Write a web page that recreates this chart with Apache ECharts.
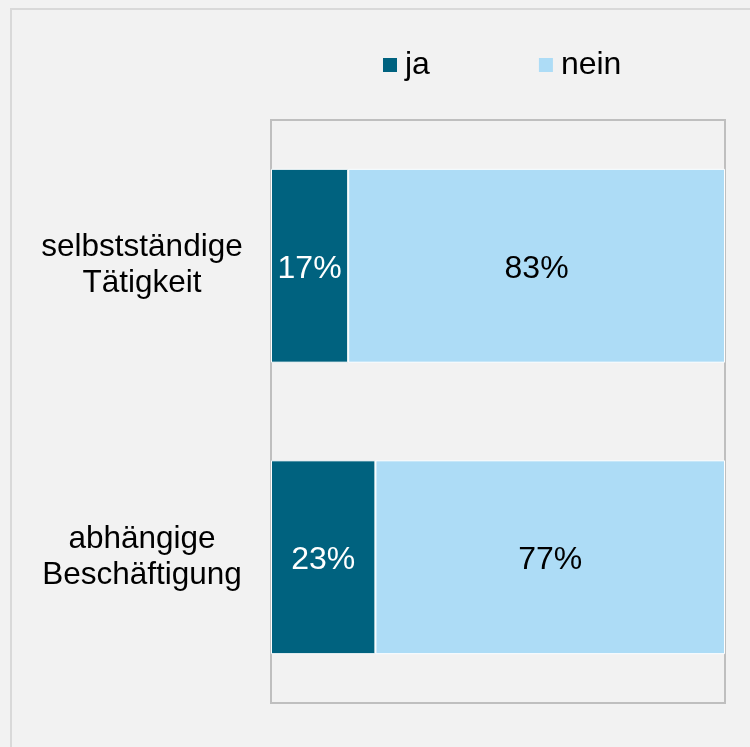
<!DOCTYPE html>
<html>
<head>
<meta charset="utf-8">
<script src="https://cdn.jsdelivr.net/npm/echarts@6/dist/echarts.min.js"></script>
<style>
  html, body { margin: 0; padding: 0; background: #f2f2f2; }
  #container { width: 750px; height: 747px; }
</style>
</head>
<body>
<div id="container"></div>
<script>
// Daten
var categories = ['selbstständige\nTätigkeit', 'abhängige\nBeschäftigung'];
var ja = [17, 23];
var nein = [83, 77];

var myChart = echarts.init(document.getElementById('container'));
myChart.setOption({
    backgroundColor: '#f2f2f2',
    textStyle: { fontFamily: 'Liberation Sans, Arial, sans-serif' },
    graphic: [{
        type: 'rect',
        shape: { x: 11, y: 9, width: 760, height: 760 },
        style: { fill: 'none', stroke: '#d9d9d9', lineWidth: 2 },
        silent: true
    }],
    legend: {
        top: 49,
        left: 383,
        padding: 0,
        itemWidth: 14,
        itemHeight: 14,
        itemGap: 109,
        icon: 'rect',
        itemStyle: { borderWidth: 0 },
        textStyle: { fontSize: 32, color: '#000', fontFamily: 'Liberation Sans, Arial, sans-serif', padding: [0, 0, 0, 3] },
        data: ['ja', 'nein']
    },
    grid: {
        left: 271, top: 120, right: 25, bottom: 44,
        show: true, borderColor: '#bfbfbf', borderWidth: 2, backgroundColor: 'transparent'
    },
    xAxis: {
        type: 'value', min: 0, max: 100, show: false
    },
    yAxis: {
        type: 'category',
        data: categories,
        inverse: true,
        axisLine: { show: false },
        axisTick: { show: false },
        axisLabel: {
            fontSize: 31.5, color: '#000', align: 'center', margin: 129, lineHeight: 36,
            fontFamily: 'Liberation Sans, Arial, sans-serif'
        }
    },
    series: [{
        name: 'ja',
        type: 'bar',
        stack: 'a',
        barWidth: '66.5%',
        data: ja,
        itemStyle: { color: '#00627f', borderColor: '#ffffff', borderWidth: 1 },
        label: { show: true, position: 'inside', offset: [0, 3], formatter: '{c}%', color: '#fff', fontSize: 32 }
    }, {
        name: 'nein',
        type: 'bar',
        stack: 'a',
        data: nein,
        itemStyle: { color: '#addcf6', borderColor: '#ffffff', borderWidth: 1 },
        label: { show: true, position: 'inside', offset: [0, 3], formatter: '{c}%', color: '#000', fontSize: 32 }
    }]
});
</script>
</body>
</html>
